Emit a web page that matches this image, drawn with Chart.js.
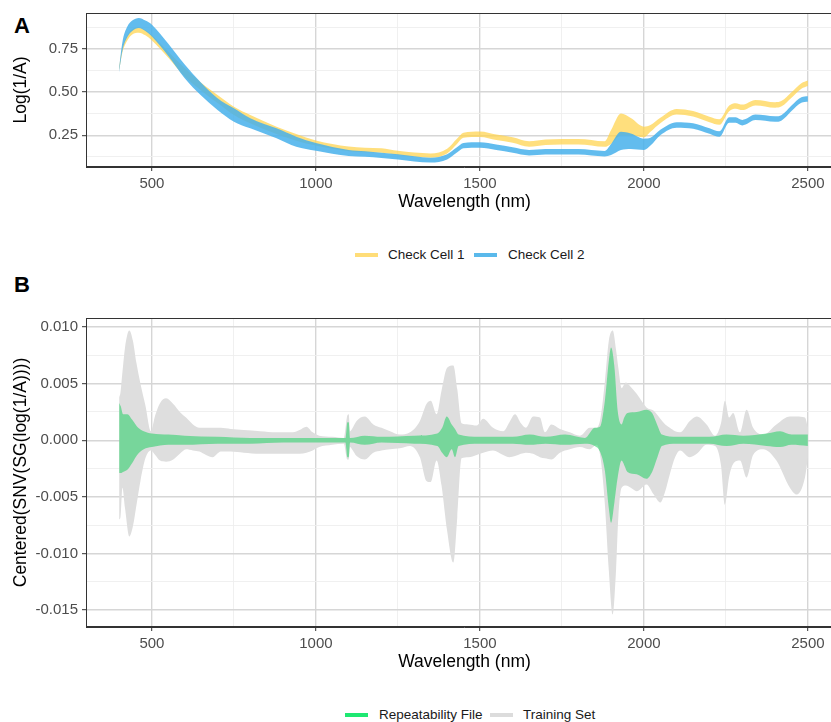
<!DOCTYPE html>
<html>
<head>
<meta charset="utf-8">
<script src="https://cdn.jsdelivr.net/npm/chart.js@4.4.1/dist/chart.umd.min.js"></script>
<style>
  html, body { margin: 0; padding: 0; background: #fff; overflow: hidden; width: 831px; height: 722px; }
  body { position: relative; font-family: "Liberation Sans", Arial, sans-serif; }
  .cv { position: absolute; left: 0; }
  .tag { position: absolute; left: 14px; font-weight: bold; font-size: 22px; line-height: 22px; color: #000; }
  .key { position: absolute; height: 4px; }
  .lab { position: absolute; font-size: 13.5px; line-height: 16px; color: #1a1a1a; white-space: nowrap; }
</style>
</head>
<body>
<div class="tag" style="top:15px">A</div>
<canvas id="chartA" class="cv" style="top:0px" width="843" height="215"></canvas>
<div class="key" style="left:355px; top:253px; width:23px; background:#ffdd78"></div>
<div class="lab" style="left:388px; top:247px">Check Cell 1</div>
<div class="key" style="left:474px; top:253px; width:23px; background:#5ab9eb"></div>
<div class="lab" style="left:508px; top:247px">Check Cell 2</div>

<div class="tag" style="top:274px">B</div>
<canvas id="chartB" class="cv" style="top:300px" width="843" height="375"></canvas>
<div class="key" style="left:345px; top:713px; width:23px; background:#1ee872"></div>
<div class="lab" style="left:379px; top:707px">Repeatability File</div>
<div class="key" style="left:490px; top:713px; width:23px; background:#dcdcdc"></div>
<div class="lab" style="left:523px; top:707px">Training Set</div>

<script>
// Panel A - raw spectra (band = spread of the replicate scans)
const wlA = [400, 410, 425, 440, 460, 480, 500, 550, 600, 650, 700, 750, 800, 880, 940, 1000, 1100, 1150, 1200, 1250,
  1300, 1350, 1400, 1430, 1450, 1500, 1550, 1600, 1650, 1700, 1800, 1880, 1900, 1930, 1960, 2000, 2020, 2050, 2100, 2150,
  2200, 2230, 2260, 2280, 2300, 2340, 2400, 2420, 2450, 2480, 2500];
const cell1Lo = [0.625, 0.73, 0.80, 0.835, 0.845, 0.83, 0.80, 0.70, 0.59, 0.51, 0.437, 0.368, 0.319, 0.257, 0.218, 0.19, 0.158, 0.152, 0.148, 0.135,
  0.125, 0.12, 0.145, 0.20, 0.235, 0.24, 0.222, 0.206, 0.183, 0.193, 0.196, 0.183, 0.20, 0.25, 0.25, 0.238, 0.27, 0.32, 0.371, 0.359,
  0.326, 0.311, 0.39, 0.404, 0.396, 0.423, 0.41, 0.418, 0.468, 0.52, 0.536];
const cell1Hi = [0.645, 0.76, 0.83, 0.865, 0.875, 0.86, 0.83, 0.735, 0.64, 0.555, 0.484, 0.416, 0.368, 0.30, 0.257, 0.22, 0.185, 0.178, 0.175, 0.16,
  0.15, 0.145, 0.172, 0.23, 0.265, 0.272, 0.254, 0.238, 0.215, 0.225, 0.228, 0.215, 0.28, 0.376, 0.35, 0.30, 0.31, 0.352, 0.403, 0.391,
  0.358, 0.343, 0.422, 0.436, 0.428, 0.455, 0.442, 0.45, 0.50, 0.552, 0.568];
const cell2Lo = [0.615, 0.74, 0.82, 0.855, 0.872, 0.855, 0.823, 0.71, 0.58, 0.48, 0.397, 0.329, 0.29, 0.232, 0.183, 0.16, 0.13, 0.125, 0.118, 0.11,
  0.098, 0.092, 0.11, 0.15, 0.175, 0.177, 0.164, 0.148, 0.133, 0.138, 0.138, 0.127, 0.135, 0.164, 0.17, 0.164, 0.19, 0.25, 0.294, 0.288,
  0.259, 0.241, 0.323, 0.323, 0.307, 0.338, 0.328, 0.336, 0.391, 0.439, 0.444];
const cell2Hi = [0.64, 0.79, 0.88, 0.915, 0.93, 0.915, 0.891, 0.78, 0.66, 0.555, 0.465, 0.406, 0.349, 0.29, 0.242, 0.205, 0.165, 0.158, 0.148, 0.14,
  0.128, 0.12, 0.14, 0.18, 0.205, 0.209, 0.196, 0.18, 0.165, 0.17, 0.17, 0.159, 0.20, 0.27, 0.26, 0.23, 0.235, 0.282, 0.326, 0.32,
  0.291, 0.273, 0.355, 0.355, 0.339, 0.37, 0.36, 0.368, 0.423, 0.471, 0.476];

// Panel B - centred pretreated spectra, envelopes
const wlTrain = [400, 404, 410, 418, 431, 442, 453, 465, 480, 497, 510, 525, 543, 565, 585, 604, 625, 645, 665, 685,
  710, 740, 780, 830, 880, 930, 950, 971, 990, 1010, 1050, 1085, 1096, 1100, 1104, 1110, 1124, 1149, 1175, 1200,
  1226, 1256, 1287, 1317, 1337, 1350, 1368, 1383, 1400, 1419, 1431, 1444, 1465, 1490, 1510, 1540, 1571, 1590, 1607, 1625,
  1640, 1662, 1683, 1698, 1718, 1744, 1774, 1805, 1835, 1856, 1868, 1881, 1893, 1905, 1915, 1922, 1932, 1945, 1960, 1978,
  2008, 2030, 2050, 2065, 2079, 2095, 2110, 2140, 2161, 2191, 2217, 2235, 2247, 2260, 2272, 2293, 2313, 2333, 2364, 2404,
  2445, 2466, 2491, 2500];
const trainHi = [0.0038, 0.0042, 0.0060, 0.0082, 0.0097, 0.0088, 0.0068, 0.0050, 0.0031, 0.0008, 0.0022, 0.0033, 0.0037, 0.0032, 0.0025, 0.0020, 0.0014, 0.0011, 0.0011, 0.0011,
  0.0011, 0.0010, 0.0009, 0.0008, 0.0007, 0.0007, 0.0009, 0.0012, 0.0007, 0.0004, 0.0003, 0.0002, 0.0022, 0.0023, 0.0008, 0.0010, 0.0017, 0.0021, 0.0014, 0.0011,
  0.0008, 0.0005, 0.0007, 0.0017, 0.0032, 0.0035, 0.0023, 0.0044, 0.0064, 0.0066, 0.0045, 0.0015, 0.0014, 0.0013, 0.0019, 0.0011, 0.0008, 0.0016, 0.0023, 0.0015,
  0.0011, 0.0021, 0.0020, 0.0007, 0.0014, 0.0010, 0.0007, 0.0004, 0.0011, 0.0011, 0.0020, 0.0052, 0.0088, 0.0097, 0.0080, 0.0064, 0.0046, 0.0051, 0.0047, 0.0041,
  0.0029, 0.0026, 0.0019, 0.0014, 0.0011, 0.0008, 0.0007, 0.0017, 0.0021, 0.0014, 0.0004, 0.0015, 0.0035, 0.0020, 0.0024, 0.0007, 0.0027, 0.0011, 0.0005, 0.0014,
  0.0021, 0.0021, 0.0020, 0.0011];
const trainLo = [-0.0070, -0.0068, -0.0042, -0.0060, -0.0085, -0.0076, -0.0057, -0.0036, -0.0016, -0.0009, -0.0013, -0.0018, -0.0019, -0.0017, -0.0012, -0.0008, -0.0009, -0.0010, -0.0013, -0.0015,
  -0.0010, -0.0010, -0.0011, -0.0012, -0.0012, -0.0012, -0.0012, -0.0011, -0.0009, -0.0006, -0.0004, -0.0003, -0.0017, -0.0017, -0.0006, -0.0008, -0.0014, -0.0017, -0.0011, -0.0009,
  -0.0008, -0.0007, -0.0005, -0.0015, -0.0036, -0.0037, -0.0018, -0.0040, -0.0080, -0.0108, -0.0068, -0.0016, -0.0015, -0.0013, -0.0011, -0.0009, -0.0013, -0.0015, -0.0014, -0.0012,
  -0.0011, -0.0012, -0.0015, -0.0016, -0.0017, -0.0011, -0.0008, -0.0006, -0.0008, -0.0004, -0.0016, -0.0057, -0.0115, -0.0154, -0.0115, -0.0068, -0.0042, -0.0040, -0.0042, -0.0045,
  -0.0039, -0.0048, -0.0055, -0.0045, -0.0030, -0.0015, -0.0009, -0.0015, -0.0012, -0.0004, -0.0005, -0.0022, -0.0057, -0.0032, -0.0021, -0.0018, -0.0033, -0.0013, -0.0008, -0.0018,
  -0.0042, -0.0048, -0.0033, -0.0015];

const wlRep = [400, 405, 412, 425, 440, 455, 475, 500, 550, 600, 700, 800, 900, 1000, 1090, 1096, 1100, 1104, 1149, 1200,
  1300, 1370, 1385, 1399, 1414, 1424, 1435, 1500, 1600, 1652, 1700, 1760, 1820, 1850, 1866, 1881, 1893, 1900, 1910, 1920,
  1932, 1940, 1950, 1978, 2008, 2025, 2040, 2055, 2100, 2200, 2252, 2303, 2374, 2415, 2450, 2500];
const repHi = [0.0033, 0.0030, 0.0023, 0.0023, 0.0018, 0.0012, 0.0008, 0.0006, 0.0005, 0.0004, 0.0003, 0.0002, 0.0002, 0.0002, 0.0002, 0.0016, 0.0016, 0.0002, 0.0004, 0.0003,
  0.0004, 0.0006, 0.0011, 0.0021, 0.0014, 0.0010, 0.0005, 0.0003, 0.0003, 0.0005, 0.0003, 0.0005, 0.0002, 0.0011, 0.0012, 0.0035, 0.0070, 0.0082, 0.0065, 0.0026,
  0.0014, 0.0020, 0.0024, 0.0025, 0.0027, 0.0024, 0.0014, 0.0005, 0.0003, 0.0003, 0.0005, 0.0004, 0.0006, 0.0008, 0.0005, 0.0005];
const repLo = [-0.0029, -0.0029, -0.0028, -0.0026, -0.0020, -0.0013, -0.0008, -0.0006, -0.0004, -0.0004, -0.0003, -0.0003, -0.0002, -0.0002, -0.0002, -0.0015, -0.0015, -0.0002, -0.0004, -0.0002,
  -0.0003, -0.0005, -0.0011, -0.0015, -0.0008, -0.0015, -0.0005, -0.0003, -0.0003, -0.0004, -0.0003, -0.0004, -0.0003, -0.0005, -0.0010, -0.0027, -0.0060, -0.0073, -0.0055, -0.0033,
  -0.0018, -0.0022, -0.0028, -0.0030, -0.0034, -0.0028, -0.0016, -0.0005, -0.0003, -0.0003, -0.0005, -0.0003, -0.0005, -0.0006, -0.0004, -0.0005];

// axis breaks
const xTicks = [500, 1000, 1500, 2000, 2500];
const xMinor = [750, 1250, 1750, 2250];
const yTicksA = [0.25, 0.5, 0.75];
const yMinorA = [0.125, 0.375, 0.625, 0.875];
const yTicksB = [-0.015, -0.01, -0.005, 0, 0.005, 0.01];
const yMinorB = [-0.0125, -0.0075, -0.0025, 0.0025, 0.0075];

const FONT = '"Liberation Sans", Arial, sans-serif';

function pts(xs, ys) {
  return xs.map((x, i) => ({ x: x, y: ys[i] }));
}

function isMajor(v, majors) {
  return majors.some(m => Math.abs(m - v) < 1e-9);
}

// ggplot-ish panel border
const panelBox = {
  id: 'panelBox',
  afterDraw(chart) {
    const a = chart.chartArea;
    const ctx = chart.ctx;
    ctx.save();
    ctx.strokeStyle = '#333333';
    ctx.lineWidth = 1;
    ctx.strokeRect(a.left + 0.5, a.top + 0.5, a.right - a.left - 1, a.bottom - a.top - 1);
    ctx.restore();
  }
};

function axis(majors, minors, fmt, extra) {
  return Object.assign({
    type: 'linear',
    afterBuildTicks: s => { s.ticks = majors.concat(minors).sort((a, b) => a - b).map(v => ({ value: v })); },
    grid: {
      color: c => isMajor(c.tick.value, majors) ? '#d6d6d6' : '#eeeeee',
      lineWidth: c => isMajor(c.tick.value, majors) ? 1.4 : 0.9,
      tickColor: c => isMajor(c.tick.value, majors) ? '#333333' : 'rgba(0,0,0,0)',
      tickLength: 4,
      tickWidth: 1
    },
    border: { display: true, color: '#333333', width: 1 },
    ticks: {
      autoSkip: false,
      maxRotation: 0,
      padding: 4,
      color: '#4d4d4d',
      font: { family: FONT, size: 15 },
      callback: v => isMajor(v, majors) ? fmt(v) : ''
    }
  }, extra);
}

function xAxis() {
  return axis(xTicks, xMinor, v => String(v), {
    min: 299, max: 2607,
    afterFit: s => { s.height = 48; },
    title: { display: true, text: 'Wavelength (nm)', color: '#000', font: { family: FONT, size: 17.5 }, padding: { top: 0, bottom: 2 } }
  });
}

function yAxis(majors, minors, digits, min, max, title) {
  return axis(majors, minors, v => v.toFixed(digits), {
    min: min, max: max,
    afterFit: s => { s.width = 86; },
    title: { display: true, text: title, color: '#000', font: { family: FONT, size: 17.5 }, padding: { top: 11, bottom: 0 } }
  });
}

function band(label, xs, ys, color, fill, order) {
  return {
    label: label,
    data: pts(xs, ys),
    borderColor: 'rgba(0,0,0,0)',
    borderWidth: 0,
    backgroundColor: color,
    pointRadius: 0,
    fill: fill,
    order: order,
    cubicInterpolationMode: 'monotone'
  };
}

const commonOpts = {
  responsive: false,
  animation: false,
  devicePixelRatio: 1,
  plugins: { legend: { display: false }, tooltip: { enabled: false } },
  events: []
};

new Chart(document.getElementById('chartA'), {
  type: 'line',
  data: {
    datasets: [
      band('Check Cell 1 min', wlA, cell1Lo, 'rgba(255,210,75,0.72)', false, 2),
      band('Check Cell 1', wlA, cell1Hi, 'rgba(255,210,75,0.72)', '-1', 2),
      band('Check Cell 2 min', wlA, cell2Lo, 'rgba(70,176,235,0.85)', false, 1),
      band('Check Cell 2', wlA, cell2Hi, 'rgba(70,176,235,0.85)', '-1', 1)
    ]
  },
  options: Object.assign({}, commonOpts, {
    layout: { padding: { top: 13, left: 0, right: 0, bottom: 0 } },
    scales: {
      x: xAxis(),
      y: yAxis(yTicksA, yMinorA, 2, 0.066, 0.959, 'Log(1/A)')
    }
  }),
  plugins: [panelBox]
});

new Chart(document.getElementById('chartB'), {
  type: 'line',
  data: {
    datasets: [
      band('Training Set min', wlTrain, trainLo, '#dedede', false, 2),
      band('Training Set', wlTrain, trainHi, '#dedede', '-1', 2),
      band('Repeatability File min', wlRep, repLo, 'rgba(50,208,110,0.6)', false, 1),
      band('Repeatability File', wlRep, repHi, 'rgba(50,208,110,0.6)', '-1', 1)
    ]
  },
  options: Object.assign({}, commonOpts, {
    layout: { padding: { top: 18, left: 0, right: 0, bottom: 0 } },
    scales: {
      x: xAxis(),
      y: yAxis(yTicksB, yMinorB, 3, -0.0165, 0.0108, 'Centered(SNV(SG(log(1/A))))')
    }
  }),
  plugins: [panelBox]
});
</script>
</body>
</html>
